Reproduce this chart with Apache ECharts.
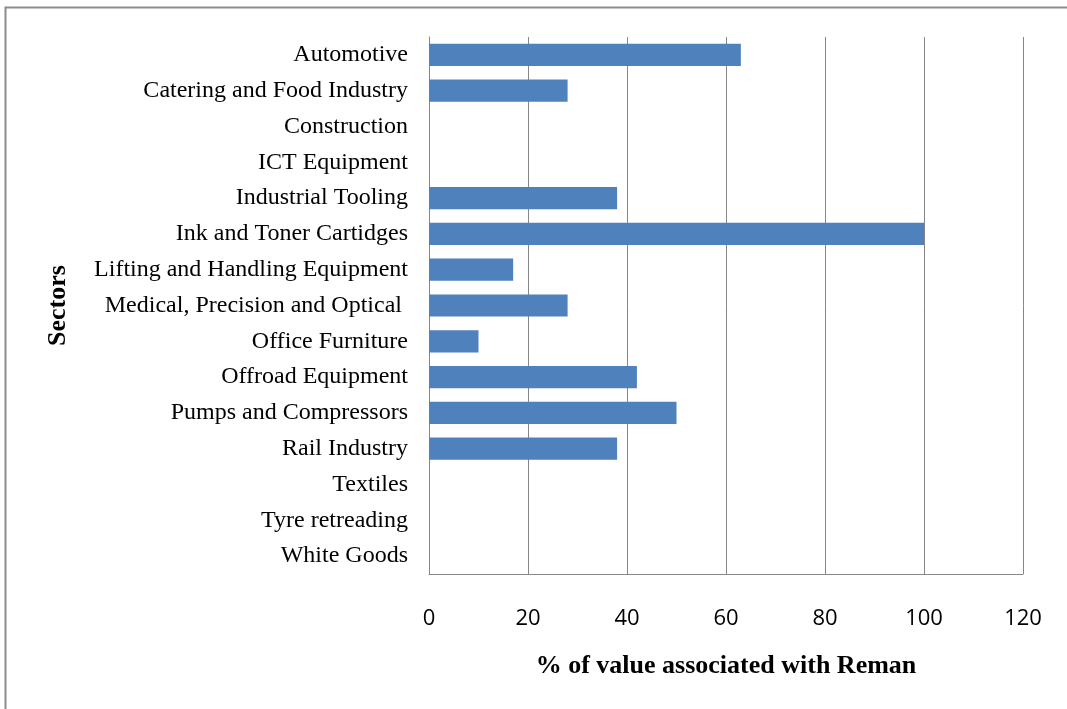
<!DOCTYPE html>
<html>
<head>
<meta charset="utf-8">
<script src="https://cdn.jsdelivr.net/npm/echarts@6/dist/echarts.min.js"></script>
<style>
html,body{margin:0;padding:0;background:#fff;}
#c{width:1067px;height:709px;}
</style>
</head>
<body>
<div id="c"></div>
<script>
const categories = [
  "Automotive",
  "Catering and Food Industry",
  "Construction",
  "ICT Equipment",
  "Industrial Tooling",
  "Ink and Toner Cartidges",
  "Lifting and Handling Equipment",
  "Medical, Precision and Optical ",
  "Office Furniture",
  "Offroad Equipment",
  "Pumps and Compressors",
  "Rail Industry",
  "Textiles",
  "Tyre retreading",
  "White Goods"
];
const values = [63, 28, 0, 0, 38, 100, 17, 28, 10, 42, 50, 38, 0, 0, 0];
const xTicks = [0, 20, 40, 60, 80, 100, 120];
const xAxisTitle = "% of value associated with Reman";
const yAxisTitle = "Sectors";

const chart = echarts.init(document.getElementById('c'));
chart.setOption({
  animation: false,
  backgroundColor: '#ffffff',
  graphic: [{
    type: 'rect',
    shape: { x: 5.5, y: 7.5, width: 1100, height: 720 },
    style: { fill: 'none', stroke: '#8c8c8c', lineWidth: 2 },
    silent: true
  }],
  grid: { left: 429, right: 44, top: 37, bottom: 135, containLabel: false },
  xAxis: {
    type: 'value',
    min: xTicks[0],
    max: xTicks[xTicks.length - 1],
    interval: xTicks[1] - xTicks[0],
    axisLine: { show: true, lineStyle: { color: '#868686', width: 1 } },
    axisTick: { show: false },
    splitLine: { show: true, lineStyle: { color: '#868686', width: 1 } },
    axisLabel: { color: '#000', fontFamily: 'Open Sans', fontSize: 22, margin: 34 },
    name: xAxisTitle,
    nameLocation: 'middle',
    nameGap: 79,
    nameTextStyle: { color: '#000', fontFamily: 'Liberation Serif', fontWeight: 'bold', fontSize: 26 }
  },
  yAxis: {
    type: 'category',
    data: categories,
    inverse: true,
    axisLine: { show: true, lineStyle: { color: '#868686', width: 1 } },
    axisTick: { show: false },
    splitLine: { show: false },
    axisLabel: { color: '#000', fontFamily: 'Liberation Serif', fontSize: 24, margin: 21, padding: [4, 0, 0, 0] },
    name: yAxisTitle,
    nameLocation: 'middle',
    nameGap: 358,
    nameRotate: 90,
    nameTextStyle: { color: '#000', fontFamily: 'Liberation Serif', fontWeight: 'bold', fontSize: 26 }
  },
  series: [{
    type: 'bar',
    data: values,
    barCategoryGap: '38%',
    itemStyle: { color: '#4f81bd' }
  }]
});
</script>
</body>
</html>
